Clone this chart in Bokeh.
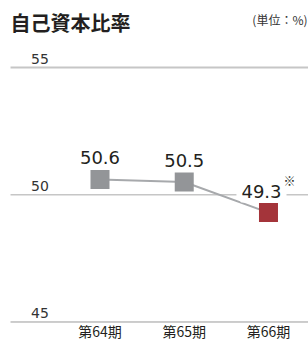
from bokeh.plotting import figure
from bokeh.models import ColumnDataSource, LabelSet, Label, Range1d
from bokeh.core.properties import value
from bokeh.embed import file_html
from bokeh.resources import INLINE

# ---- data ----
periods = ["第64期", "第65期", "第66期"]
ratios = [50.6, 50.5, 49.3]
notes = ["", "", "※"]
y_ticks = [55, 50, 45]
y_tick_labels = ["55", "50", "45"]
title_text = "自己資本比率"
unit_text = "(単位：%)"

# ---- styles ----
gray_marker = "#939598"
red_marker = "#a4343a"
line_color = "#a7a9ac"
text_color = "#231f20"
num_font = "DejaVu Sans"
jp_font = "Noto Sans CJK JP"

idx = list(range(len(periods)))
marker_colors = [red_marker if n else gray_marker for n in notes]
label_xoff = [-7 if n else 0 for n in notes]

X0, X1 = -1.181, 2.475
Y0, Y1 = 44.273, 57.633
GRID_LEFT = -1.062

src = ColumnDataSource(dict(x=idx, y=ratios, period=periods,
                            label=[f"{v:.1f}" for v in ratios],
                            note=notes, color=marker_colors, xoff=label_xoff))
grid_colors = ["#c6c6c6", "#c6c6c6", "#9a9a9a"]
grid_widths = [2, 1.5, 1]
tick_src = ColumnDataSource(dict(y=y_ticks, text=y_tick_labels,
                                 x0=[GRID_LEFT] * len(y_ticks),
                                 x1=[X1] * len(y_ticks),
                                 c=grid_colors, w=grid_widths))

p = figure(width=308, height=340, output_backend="svg", toolbar_location=None,
           x_range=Range1d(X0, X1), y_range=Range1d(Y0, Y1),
           min_border=0, min_border_left=0, min_border_right=0,
           min_border_top=0, min_border_bottom=0)
p.axis.visible = False
p.grid.visible = False
p.outline_line_color = None
p.background_fill_color = "white"
p.border_fill_color = "white"

p.segment(x0="x0", x1="x1", y0="y", y1="y", source=tick_src,
          line_color="c", line_width="w", level="underlay")

p.line("x", "y", source=src, line_color=line_color, line_width=2)
p.scatter("x", "y", source=src, marker="square", size=19,
          fill_color="color", line_color=None)

# value labels (white box hides the grid line behind the text)
p.add_layout(LabelSet(x="x", y="y", text="label", source=src,
                      y_offset=15, x_offset="xoff", text_align="center",
                      text_baseline="alphabetic", text_font=value(num_font),
                      text_font_size="18px", text_color=text_color,
                      background_fill_color="white",
                      border_line_color="white", border_line_width=10))
p.add_layout(LabelSet(x="x", y="y", text="note", source=src,
                      x_offset=15, y_offset=27, text_align="left",
                      text_baseline="alphabetic", text_font=value(jp_font),
                      text_font_size="12px", text_color=text_color))

# y tick labels
p.add_layout(LabelSet(x=39.5, y="y", text="text", source=tick_src,
                      x_units="screen", y_offset=4, text_align="center",
                      text_baseline="alphabetic", text_font=value(num_font),
                      text_font_size="14px", text_color="#333333"))

# x category labels
p.add_layout(LabelSet(x="x", y=4, y_units="screen", text="period", source=src,
                      text_align="center", text_baseline="alphabetic",
                      text_font=value(jp_font), text_font_size="14px",
                      text_color=text_color))

# title and unit
p.add_layout(Label(x=10, y=318, x_units="screen", y_units="screen",
                   text=title_text, text_font=jp_font, text_font_size="20px",
                   text_font_style="bold", text_color=text_color,
                   text_baseline="alphabetic"))
p.add_layout(Label(x=307, y=321, x_units="screen", y_units="screen",
                   text=unit_text, text_font=jp_font, text_font_size="12px",
                   text_color="#333333", text_align="right",
                   text_baseline="alphabetic"))

open("out.html", "w").write(file_html(p, INLINE))
